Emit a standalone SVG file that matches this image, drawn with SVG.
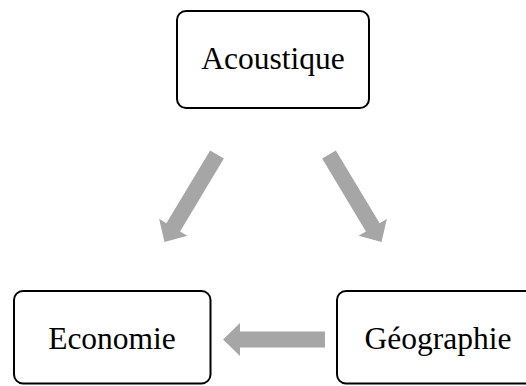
<svg xmlns="http://www.w3.org/2000/svg" width="526" height="386" viewBox="0 0 526 386">
<defs>
<style>
.box{fill:#fff;stroke:#000;stroke-width:2}
.lbl{font-family:"Liberation Serif","Times New Roman",serif;font-size:31.5px;fill:#000;text-anchor:middle}
.arr{fill:#a6a6a6}
</style>
<polygon id="arrowShape" class="arr" points="0,-8 85,-8 85,-16.5 102,0 85,16.5 85,8 0,8"/>
</defs>
<rect width="526" height="386" fill="#fff"/>
<g id="connectors">
<use href="#arrowShape" transform="translate(217,154.5) rotate(121)"/>
<use href="#arrowShape" transform="translate(329,154.5) rotate(59)"/>
<use href="#arrowShape" transform="translate(325,339.5) rotate(180)"/>
</g>
<g id="acoustique">
<rect class="box" x="177" y="11" width="192" height="97" rx="9"/>
<text class="lbl" x="273" y="69">Acoustique</text>
</g>
<g id="economie">
<rect class="box" x="14" y="291" width="196.5" height="92.5" rx="9"/>
<text class="lbl" x="112" y="348.5">Economie</text>
</g>
<g id="geographie">
<rect class="box" x="337" y="291" width="203" height="92.5" rx="9"/>
<text class="lbl" x="438" y="348.5">Géographie</text>
</g>
</svg>
